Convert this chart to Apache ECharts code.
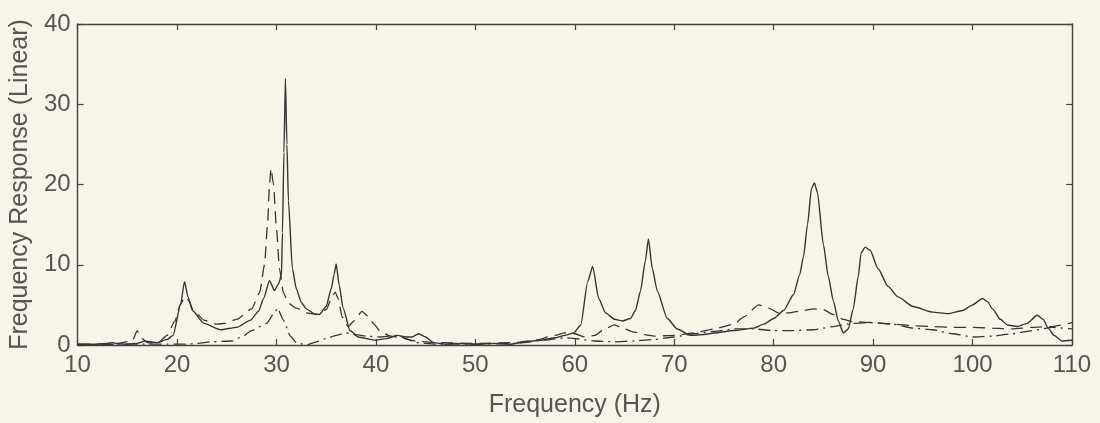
<!DOCTYPE html>
<html>
<head>
<meta charset="utf-8">
<script src="https://cdn.jsdelivr.net/npm/echarts@6/dist/echarts.min.js"></script>
<style>
html,body{margin:0;padding:0;background:#f7f5ea;}
#c{width:1100px;height:423px;}
</style>
</head>
<body>
<div id="c"></div>
<script>
// Frequency axis ticks
const xTicks = [10, 20, 30, 40, 50, 60, 70, 80, 90, 100, 110];
const yTicks = [0, 10, 20, 30, 40];

// Solid curve
const solidFreq = [10, 11, 12, 13, 13.5, 14, 15, 16, 16.8, 17.3, 18, 19, 19.6, 20.35, 20.75, 21.1, 21.55, 22.7, 24.4, 26, 27.4, 28.2, 28.7, 29.3, 29.8, 30.2, 30.5, 30.6, 30.75, 30.9, 31.05, 31.2, 31.6, 32, 32.5, 33, 33.8, 34.3, 35, 35.5, 35.8, 36, 36.3, 36.7, 37.4, 38.2, 40, 41, 42.2, 43, 43.6, 44.3, 45, 45.8, 47, 48, 50, 52, 53.5, 55, 56.5, 58, 59, 59.9, 60.6, 61.3, 61.8, 62.4, 63.1, 64, 64.8, 65.6, 66.1, 66.6, 67.1, 67.4, 67.8, 68.3, 69.3, 70.3, 71.6, 73, 74, 76, 78, 79, 80, 81, 82, 82.6, 83, 83.4, 83.8, 84.1, 84.4, 85, 85.5, 86, 86.5, 87, 87.5, 88, 88.5, 88.8, 89.2, 89.7, 90.5, 91.5, 92.5, 94, 96, 97.5, 99, 100, 101, 101.5, 102, 102.8, 103.5, 104.5, 105.5, 106.5, 107.1, 107.6, 108.2, 109, 110];
const solidVal = [0.1, 0.1, 0.1, 0.2, 0.3, 0.15, 0.1, 0.2, 0.5, 0.4, 0.3, 0.7, 1.2, 5.0, 7.9, 6.0, 4.3, 2.7, 1.9, 2.2, 3.1, 4.2, 5.8, 8.0, 6.8, 7.6, 8.7, 14, 24, 33.2, 25, 18, 9.5, 7.0, 5.3, 4.5, 3.9, 3.8, 4.8, 7.0, 8.8, 10.1, 7.5, 4.6, 1.8, 1.0, 0.6, 0.8, 1.2, 1.0, 1.0, 1.4, 1.0, 0.3, 0.1, 0.2, 0.1, 0.2, 0.1, 0.4, 0.6, 0.9, 1.2, 1.5, 2.5, 7.9, 9.8, 5.8, 4.0, 3.2, 3.0, 3.3, 4.3, 6.7, 10.5, 13.2, 9.5, 6.7, 3.3, 2.0, 1.2, 1.3, 1.5, 1.8, 2.1, 2.6, 3.3, 4.3, 6.3, 8.7, 11, 15, 19.5, 20.2, 19, 12.5, 8.5, 5.5, 3.0, 1.5, 2.0, 4.5, 8.5, 11.5, 12.2, 11.8, 9.5, 7.3, 6.0, 4.8, 4.1, 3.9, 4.3, 5.0, 5.8, 5.4, 4.5, 3.2, 2.5, 2.3, 2.7, 3.7, 3.2, 2.1, 1.2, 0.5, 0.6];

// Dashed curve
const dashFreq = [10, 12, 14, 15.5, 16, 16.3, 17, 18, 19, 19.8, 20.3, 20.8, 21.2, 21.6, 22.7, 24, 24.8, 26, 27.5, 28.3, 28.8, 29.1, 29.3, 29.45, 29.7, 30, 30.3, 30.7, 31.2, 32, 33, 34, 35, 35.6, 35.9, 36.2, 36.6, 37.2, 37.8, 38.6, 39.2, 39.8, 40.5, 41.5, 42.5, 44, 46, 50, 54, 56, 58, 59, 60, 61, 62, 63, 64, 65, 66, 67, 68, 70, 72, 74, 76, 77, 78.5, 79.5, 80.5, 81.5, 83, 84, 85, 86, 87, 88, 90, 92, 94, 96, 98, 100, 102, 104, 106, 108, 110];
const dashVal = [0.1, 0.1, 0.2, 0.5, 1.8, 1.0, 0.3, 0.2, 1.2, 3.0, 5.0, 6.0, 5.5, 4.4, 3.1, 2.6, 2.7, 3.2, 4.5, 6.5, 10, 15, 20, 22, 20, 14.5, 9.5, 6.5, 5.2, 4.6, 4.0, 3.8, 4.4, 6.0, 6.6, 5.8, 3.5, 2.3, 3.0, 4.2, 3.6, 2.6, 1.6, 1.1, 0.9, 0.5, 0.3, 0.2, 0.3, 0.6, 1.2, 1.5, 1.4, 1.0, 1.2, 2.0, 2.5, 2.0, 1.6, 1.3, 1.1, 1.2, 1.5, 2.0, 2.6, 3.5, 5.0, 4.6, 4.0, 4.0, 4.3, 4.5, 4.4, 3.8, 3.2, 2.9, 2.8, 2.6, 2.4, 2.3, 2.2, 2.2, 2.1, 2.0, 2.2, 2.3, 2.8];

// Dash-dot curve
const dotFreq = [10, 14, 17, 19, 21, 22, 23.5, 25.5, 26.5, 27.5, 29, 29.8, 30.1, 30.7, 31.4, 32, 33, 34, 35, 36, 37, 38, 39, 40.5, 42.2, 43.2, 44, 46, 50, 54, 57, 59, 60, 62, 64, 66, 68, 70, 72, 74, 76, 78, 80, 82, 84, 86, 88, 90, 92, 94, 96, 98, 100, 102, 104, 106, 108, 110];
const dotVal = [0.0, 0.1, 0.1, 0.1, 0.1, 0.2, 0.4, 0.5, 1.0, 1.8, 2.7, 4.0, 4.6, 3.1, 1.1, 0.3, 0.0, 0.4, 0.8, 1.2, 1.5, 1.3, 1.1, 1.0, 1.2, 0.7, 0.3, 0.1, 0.1, 0.2, 0.6, 0.9, 0.8, 0.5, 0.4, 0.5, 0.7, 1.0, 1.4, 1.7, 2.0, 2.0, 1.8, 1.8, 1.9, 2.3, 2.7, 2.8, 2.6, 2.1, 1.9, 1.4, 1.0, 1.1, 1.4, 1.8, 2.2, 2.0];

function pairs(f, v) { return f.map((x, i) => [x, v[i]]); }

const ink = '#363636';
const txt = '#555555';
const font = '"Liberation Sans", Arial, sans-serif';

const chart = echarts.init(document.getElementById('c'), null, {renderer: 'canvas'});
const axisCommon = {
  axisLine: {show: true, onZero: false, lineStyle: {color: '#444', width: 1.4}},
  axisTick: {show: true, inside: true, length: 6, lineStyle: {color: '#444', width: 1.2}},
  splitLine: {show: false}
};
chart.setOption({
  backgroundColor: '#f7f5ea',
  animation: false,
  grid: {left: 77, right: 28, top: 24, bottom: 76},
  xAxis: [
    Object.assign({}, axisCommon, {
      type: 'value', position: 'bottom', min: xTicks[0], max: xTicks[xTicks.length - 1], interval: 10,
      name: 'Frequency (Hz)', nameLocation: 'middle', nameGap: 48,
      nameTextStyle: {fontSize: 25, color: txt, fontFamily: font},
      axisLabel: {fontSize: 24, color: txt, fontFamily: font, margin: 8}
    }),
    Object.assign({}, axisCommon, {
      type: 'value', position: 'top', min: xTicks[0], max: xTicks[xTicks.length - 1], interval: 10,
      axisLabel: {show: false}
    })
  ],
  yAxis: [
    Object.assign({}, axisCommon, {
      type: 'value', position: 'left', min: yTicks[0], max: yTicks[yTicks.length - 1], interval: 10,
      name: 'Frequency Response (Linear)', nameLocation: 'middle', nameGap: 41, nameRotate: 90,
      nameTextStyle: {fontSize: 25, color: txt, fontFamily: font},
      axisLabel: {fontSize: 24, color: txt, fontFamily: font, margin: 7}
    }),
    Object.assign({}, axisCommon, {
      type: 'value', position: 'right', min: yTicks[0], max: yTicks[yTicks.length - 1], interval: 10,
      axisLabel: {show: false}
    })
  ],
  series: [
    {
      type: 'line', name: 'solid', data: pairs(solidFreq, solidVal), showSymbol: false,
      smooth: 0.2, smoothMonotone: 'x',
      lineStyle: {color: ink, width: 1.4, type: 'solid'}
    },
    {
      type: 'line', name: 'dashed', data: pairs(dashFreq, dashVal), showSymbol: false,
      smooth: 0.2, smoothMonotone: 'x',
      lineStyle: {color: ink, width: 1.3, type: [12, 7]}
    },
    {
      type: 'line', name: 'dashdot', data: pairs(dotFreq, dotVal), showSymbol: false,
      smooth: 0.2, smoothMonotone: 'x',
      lineStyle: {color: ink, width: 1.3, type: [12, 5, 2, 5]}
    }
  ]
});
</script>
</body>
</html>
